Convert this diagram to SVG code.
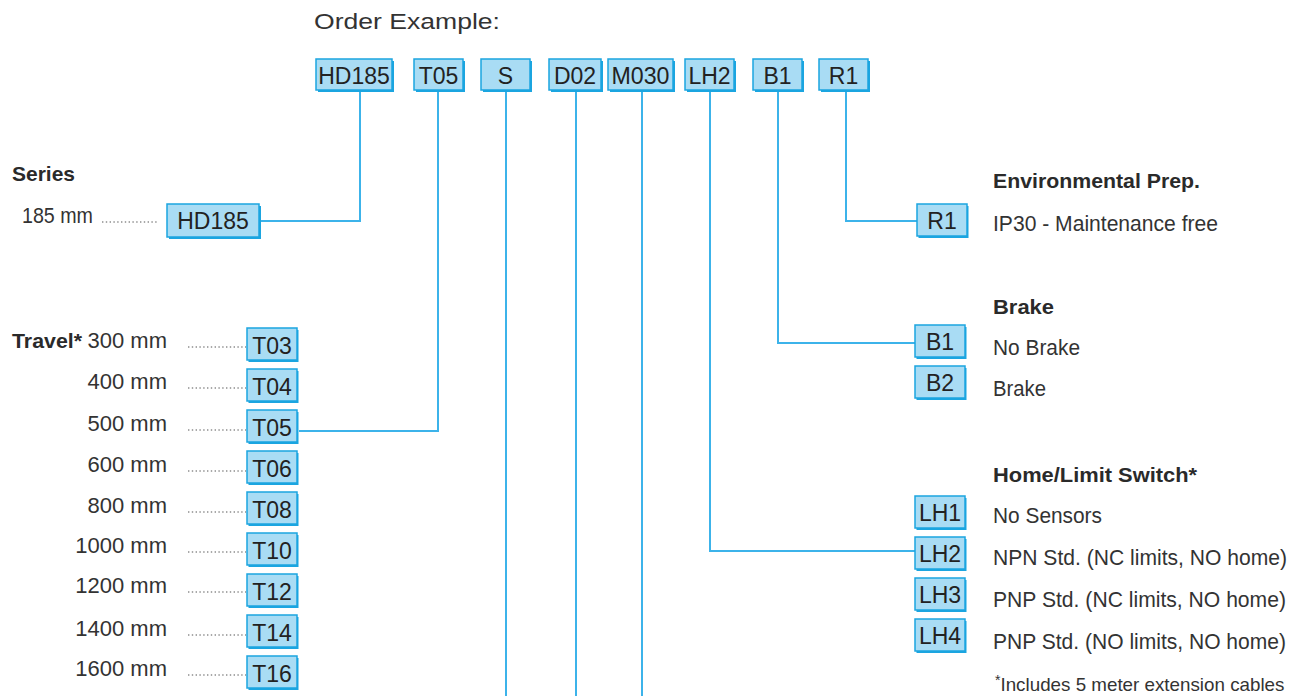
<svg xmlns="http://www.w3.org/2000/svg" width="1304" height="696" viewBox="0 0 1304 696">
  <defs>
    <style>
      .box { fill: #a9dcf4; stroke: #1ba5e0; stroke-width: 1.5; }
      .shadow { fill: #1ba5e0; }
      .code { font-family: "Liberation Sans", Arial, sans-serif; font-size: 23px; fill: #222; text-anchor: middle; }
      .head { font-family: "Liberation Sans Narrow", "Liberation Sans", Arial, sans-serif; font-size: 21px; font-weight: bold; fill: #2a2a2a; }
      .txt { font-family: "Liberation Sans Narrow", "Liberation Sans", Arial, sans-serif; font-size: 22px; fill: #333; }
      .title { font-family: "Liberation Sans", Arial, sans-serif; font-size: 22px; fill: #333; }
      .note { font-family: "Liberation Sans Narrow", "Liberation Sans", Arial, sans-serif; font-size: 19px; fill: #333; }
      .lead { stroke: #555; stroke-width: 1.2; stroke-dasharray: 1.4 2.4; fill: none; }
      .wire { stroke: #3cb3ea; stroke-width: 2; fill: none; }
    </style>
    <!-- code box with offset drop edge -->
    <g id="b50">
      <rect class="shadow" x="1.5" y="2" width="50" height="32"/>
      <rect class="box" x="0" y="0" width="50" height="32"/>
    </g>
  </defs>

  <text class="title" x="314" y="29" textLength="186" lengthAdjust="spacingAndGlyphs">Order Example:</text>

  <!-- connectors -->
  <g id="connectors">
    <polyline class="wire" points="360,90 360,221 260,221"/>
    <polyline class="wire" points="438,90 438,431 299,431"/>
    <line class="wire" x1="506" y1="90" x2="506" y2="696"/>
    <line class="wire" x1="576" y1="90" x2="576" y2="696"/>
    <line class="wire" x1="642" y1="90" x2="642" y2="696"/>
    <polyline class="wire" points="710,90 710,551 915,551"/>
    <polyline class="wire" points="778,90 778,343 915,343"/>
    <polyline class="wire" points="846,90 846,221 917,221"/>
  </g>

  <!-- order example code row -->
  <g id="order-row">
    <g id="o-hd185"><rect class="shadow" x="318" y="61" width="76" height="31"/><rect class="box" x="316" y="59" width="76" height="31"/><text class="code" x="354" y="84">HD185</text></g>
    <g id="o-t05"><rect class="shadow" x="416" y="61" width="49" height="31"/><rect class="box" x="414" y="59" width="49" height="31"/><text class="code" x="438.5" y="84">T05</text></g>
    <g id="o-s"><rect class="shadow" x="483" y="61" width="49" height="31"/><rect class="box" x="481" y="59" width="49" height="31"/><text class="code" x="505.5" y="84">S</text></g>
    <g id="o-d02"><rect class="shadow" x="551" y="61" width="52" height="31"/><rect class="box" x="549" y="59" width="52" height="31"/><text class="code" x="575" y="84">D02</text></g>
    <g id="o-m030"><rect class="shadow" x="610" y="61" width="65" height="31"/><rect class="box" x="608" y="59" width="65" height="31"/><text class="code" x="640.5" y="84" textLength="58" lengthAdjust="spacingAndGlyphs">M030</text></g>
    <g id="o-lh2"><rect class="shadow" x="687" y="61" width="49" height="31"/><rect class="box" x="685" y="59" width="49" height="31"/><text class="code" x="709.5" y="84">LH2</text></g>
    <g id="o-b1"><rect class="shadow" x="755" y="61" width="49" height="31"/><rect class="box" x="753" y="59" width="49" height="31"/><text class="code" x="777.5" y="84">B1</text></g>
    <g id="o-r1"><rect class="shadow" x="821" y="61" width="49" height="31"/><rect class="box" x="819" y="59" width="49" height="31"/><text class="code" x="843.5" y="84">R1</text></g>
  </g>

  <!-- series -->
  <g id="series">
    <text class="head" x="12" y="181" textLength="63" lengthAdjust="spacingAndGlyphs">Series</text>
    <text class="txt" x="22" y="223" textLength="71" lengthAdjust="spacingAndGlyphs">185 mm</text>
    <line class="lead" x1="102" y1="222" x2="158" y2="222"/>
    <rect class="shadow" x="169" y="206" width="92" height="33"/>
    <rect class="box" x="167" y="204" width="92" height="33"/>
    <text class="code" x="213" y="229">HD185</text>
  </g>

  <!-- travel -->
  <g id="travel">
    <text class="head" x="12" y="348" textLength="70" lengthAdjust="spacingAndGlyphs">Travel*</text>
    <g id="t03"><text class="txt" x="167" y="348" text-anchor="end">300 mm</text><line class="lead" x1="188" y1="347" x2="246" y2="347"/><use href="#b50" x="247" y="328"/><text class="code" x="272" y="354">T03</text></g>
    <g id="t04"><text class="txt" x="167" y="389" text-anchor="end">400 mm</text><line class="lead" x1="188" y1="388" x2="246" y2="388"/><use href="#b50" x="247" y="369"/><text class="code" x="272" y="395">T04</text></g>
    <g id="t05"><text class="txt" x="167" y="431" text-anchor="end">500 mm</text><line class="lead" x1="188" y1="430" x2="246" y2="430"/><use href="#b50" x="247" y="410"/><text class="code" x="272" y="436">T05</text></g>
    <g id="t06"><text class="txt" x="167" y="472" text-anchor="end">600 mm</text><line class="lead" x1="188" y1="471" x2="246" y2="471"/><use href="#b50" x="247" y="451"/><text class="code" x="272" y="477">T06</text></g>
    <g id="t08"><text class="txt" x="167" y="513" text-anchor="end">800 mm</text><line class="lead" x1="188" y1="512" x2="246" y2="512"/><use href="#b50" x="247" y="492"/><text class="code" x="272" y="518">T08</text></g>
    <g id="t10"><text class="txt" x="167" y="553" text-anchor="end">1000 mm</text><line class="lead" x1="188" y1="552" x2="246" y2="552"/><use href="#b50" x="247" y="533"/><text class="code" x="272" y="559">T10</text></g>
    <g id="t12"><text class="txt" x="167" y="593" text-anchor="end">1200 mm</text><line class="lead" x1="188" y1="592" x2="246" y2="592"/><use href="#b50" x="247" y="574"/><text class="code" x="272" y="600">T12</text></g>
    <g id="t14"><text class="txt" x="167" y="636" text-anchor="end">1400 mm</text><line class="lead" x1="188" y1="635" x2="246" y2="635"/><use href="#b50" x="247" y="615"/><text class="code" x="272" y="641">T14</text></g>
    <g id="t16"><text class="txt" x="167" y="676" text-anchor="end">1600 mm</text><line class="lead" x1="188" y1="675" x2="246" y2="675"/><use href="#b50" x="247" y="656"/><text class="code" x="272" y="682">T16</text></g>
  </g>

  <!-- environmental prep -->
  <g id="env">
    <text class="head" x="993" y="188" textLength="207" lengthAdjust="spacingAndGlyphs">Environmental Prep.</text>
    <use href="#b50" x="917" y="204"/><text class="code" x="942" y="229">R1</text>
    <text class="txt" x="993" y="231" textLength="225" lengthAdjust="spacingAndGlyphs">IP30 - Maintenance free</text>
  </g>

  <!-- brake -->
  <g id="brake">
    <text class="head" x="993" y="314" textLength="61" lengthAdjust="spacingAndGlyphs">Brake</text>
    <use href="#b50" x="915" y="325"/><text class="code" x="940" y="350">B1</text>
    <text class="txt" x="993" y="355" textLength="87" lengthAdjust="spacingAndGlyphs">No Brake</text>
    <use href="#b50" x="915" y="366"/><text class="code" x="940" y="391">B2</text>
    <text class="txt" x="993" y="396" textLength="53" lengthAdjust="spacingAndGlyphs">Brake</text>
  </g>

  <!-- home / limit switch -->
  <g id="limit">
    <text class="head" x="993" y="482" textLength="204" lengthAdjust="spacingAndGlyphs">Home/Limit Switch*</text>
    <use href="#b50" x="915" y="496"/><text class="code" x="940" y="521">LH1</text>
    <text class="txt" x="993" y="523" textLength="109" lengthAdjust="spacingAndGlyphs">No Sensors</text>
    <use href="#b50" x="915" y="537"/><text class="code" x="940" y="562">LH2</text>
    <text class="txt" x="993" y="565" textLength="294" lengthAdjust="spacingAndGlyphs">NPN Std. (NC limits, NO home)</text>
    <use href="#b50" x="915" y="578"/><text class="code" x="940" y="603">LH3</text>
    <text class="txt" x="993" y="607" textLength="293" lengthAdjust="spacingAndGlyphs">PNP Std. (NC limits, NO home)</text>
    <use href="#b50" x="915" y="619"/><text class="code" x="940" y="644">LH4</text>
    <text class="txt" x="993" y="649" textLength="293" lengthAdjust="spacingAndGlyphs">PNP Std. (NO limits, NO home)</text>
    <text class="note" x="995" y="691"><tspan font-size="14" dy="-6">*</tspan><tspan dy="6" textLength="284" lengthAdjust="spacingAndGlyphs">Includes 5 meter extension cables</tspan></text>
  </g>
</svg>
